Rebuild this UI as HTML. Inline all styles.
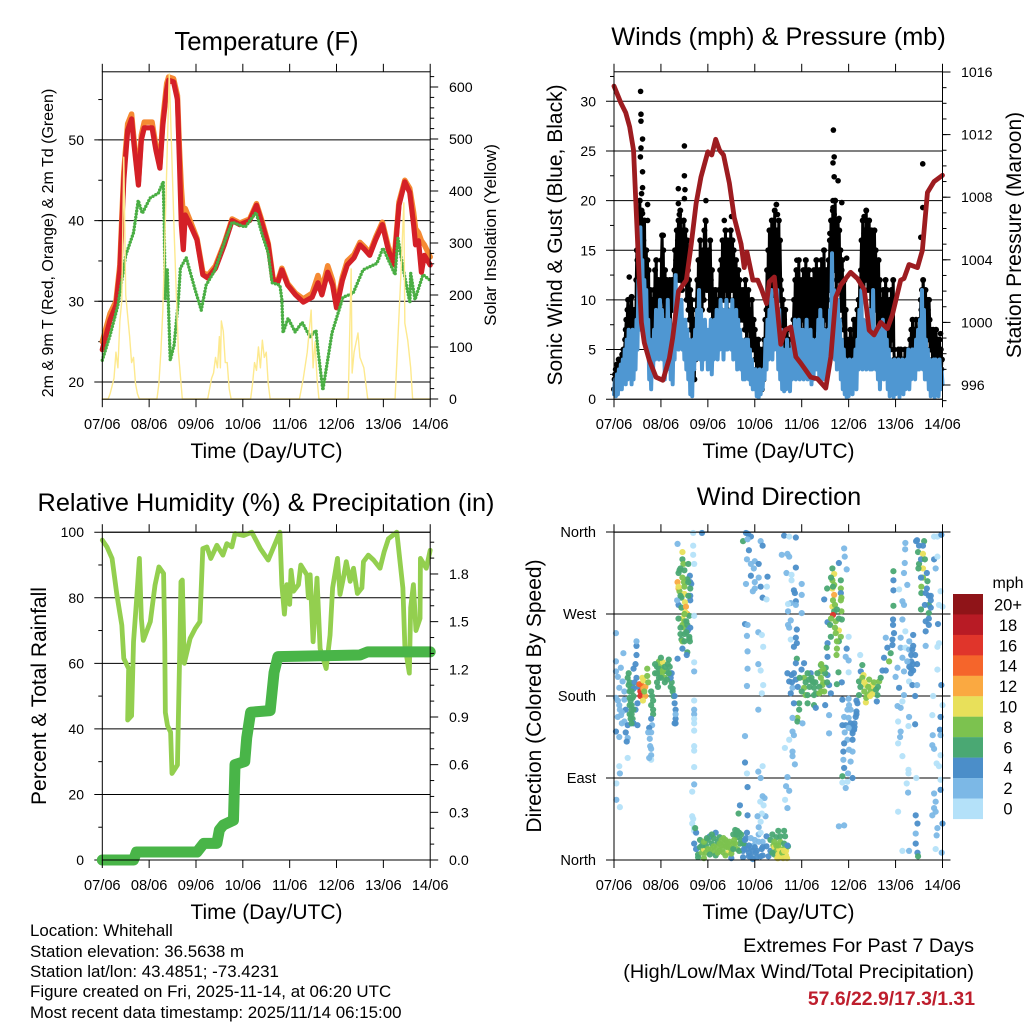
<!DOCTYPE html>
<html lang="en">
<head>
<meta charset="utf-8">
<title>Whitehall Station Meteogram</title>
<style>
html,body{margin:0;padding:0;background:#fff;}
svg{display:block;font-family:"Liberation Sans",Arial,sans-serif;}
</style>
</head>
<body>
<svg id="chart" xmlns="http://www.w3.org/2000/svg" width="1024" height="1024" viewBox="0 0 1024 1024">
<rect x="0" y="0" width="1024" height="1024" fill="#fff"/>
<g id="p1"></g>
<g id="p2"></g>
<g id="p3"></g>
<g id="p4"></g>
<g id="legend"></g>

<text x="266.5" y="50" font-size="25.7" text-anchor="middle">Temperature (F)</text>
<text x="778.5" y="45" font-size="25.3" text-anchor="middle">Winds (mph) &amp; Pressure (mb)</text>
<text x="266" y="511" font-size="25.3" text-anchor="middle">Relative Humidity (%) &amp; Precipitation (in)</text>
<text x="779" y="505" font-size="25.3" text-anchor="middle">Wind Direction</text>

<text x="266.5" y="458" font-size="21" text-anchor="middle">Time (Day/UTC)</text>
<text x="778.5" y="458" font-size="21" text-anchor="middle">Time (Day/UTC)</text>
<text x="266.5" y="919" font-size="21" text-anchor="middle">Time (Day/UTC)</text>
<text x="778.5" y="919" font-size="21" text-anchor="middle">Time (Day/UTC)</text>

<text transform="translate(53,243) rotate(-90)" font-size="16" text-anchor="middle">2m &amp; 9m T (Red, Orange) &amp; 2m Td (Green)</text>
<text transform="translate(496,235) rotate(-90)" font-size="17" text-anchor="middle">Solar Insolation (Yellow)</text>
<text transform="translate(562,235) rotate(-90)" font-size="21" text-anchor="middle">Sonic Wind &amp; Gust (Blue, Black)</text>
<text transform="translate(1021,235) rotate(-90)" font-size="21" text-anchor="middle">Station Pressure (Maroon)</text>
<text transform="translate(46,696) rotate(-90)" font-size="21" text-anchor="middle">Percent &amp; Total Rainfall</text>
<text transform="translate(541,696) rotate(-90)" font-size="21" text-anchor="middle">Direction (Colored By Speed)</text>

<g font-size="16.9">
<text x="30" y="936">Location: Whitehall</text>
<text x="30" y="957">Station elevation: 36.5638 m</text>
<text x="30" y="977">Station lat/lon: 43.4851; -73.4231</text>
<text x="30" y="997">Figure created on Fri, 2025-11-14, at 06:20 UTC</text>
<text x="30" y="1018">Most recent data timestamp: 2025/11/14 06:15:00</text>
</g>
<g text-anchor="end">
<text x="974" y="952" font-size="19.8">Extremes For Past 7 Days</text>
<text x="974" y="978" font-size="19.8">(High/Low/Max Wind/Total Precipitation)</text>
<text x="975" y="1005" font-size="19.4" font-weight="bold" fill="#be1e2d">57.6/22.9/17.3/1.31</text>
</g>
</svg>

<script>
/* ---------- shared axis data ---------- */
const timeTickHours = [0,24,48,72,96,120,144,168];
const timeTickLabels = ['07/06','08/06','09/06','10/06','11/06','12/06','13/06','14/06'];

/* ---------- temperature panel ---------- */
const tempHours = [0,4,7,9,11,13,15,16,18.5,20,21.5,25.5,27.5,29.5,31,33,34,36.5,38.5,39.5,40.5,41.5,42.5,45,48.5,51.5,54,58,62.5,66.5,70.5,75.5,79,82,85,87.5,90,92,95,99,103,107.5,110.5,112.5,115.5,118,120,123,125.5,129,132,134.5,137,140,143.5,146.5,149.5,152,155,157.5,159.5,160.5,162,163.5,165,168];
const temp2m = [24,27.7,29.5,33.9,45,51.2,52.6,50,44.4,50,51.5,51.5,48.7,46.5,51.8,56.2,57.4,57.2,55,47.5,39.5,36.4,40.7,39.5,37.6,33.3,32.9,34.1,37,40,39.5,40,41.9,39.5,37,32.6,32.4,33.9,32,30.8,29.9,30.5,32.3,30.8,33.6,32,29.2,32.6,34.5,35.4,37,36.4,35.7,37.6,39.5,36.4,34.5,41.9,44.8,43.5,39.5,37,37.5,33.6,35.7,34.5];
const temp9m = [25,28.5,30,34.5,46,52,53.2,50.6,44.8,50.6,52.2,52.2,49.2,47,52.5,57,57.8,57.6,55.5,49,44,40.5,41.5,40,37.8,33.6,33.2,34.4,37.2,40.2,39.7,40.2,42.1,39.8,37.2,32.8,32.6,34.1,32.2,31,30.3,31,33.2,31.5,34.4,32.6,29.6,33,35,35.8,37.3,36.7,36,37.9,39.8,36.8,35,42.3,45,44,41,39,38.5,37.5,37,35.5];
const dewHours = [0,4,8,12,16,18.4,20.5,24.5,28.7,31.2,31.7,32.2,33.3,34.8,36.8,39,40,43,47.6,50.7,53.2,57.8,63,66.5,73.2,78.8,82,85,87,91,92,92.6,95.2,98.8,102.4,106.4,109.5,110.5,113,117.7,123.3,128.5,133.6,140.7,143.8,150,151.5,154,156,157.6,158,160.2,164.3,168];
const dewPoint = [22.7,25.8,29.5,35.7,38.5,42.5,40.9,42.8,43.4,44.8,40,30.2,33.9,22.7,24.6,30.2,34.1,35.4,31.4,28.9,32,33.9,37.6,39.8,39.2,41,38.2,36,32.3,32,30.2,26.1,27.9,26.2,27.4,25.6,26.4,24,19,26.1,30.5,31,33.9,34.7,36.6,33.3,37.8,34.2,31.8,29.8,33.5,30.2,33.3,32.6];
const solarHours = [0,3,4,6,7,8,9,10,11,12,13,14,15,16,17,18,19,28,29,30,31,32,34.3,37,39,41,54,55,56,57,58,59,60,60.5,61,62,63,64,65,66,76,77,78,79,80,81,82,83,84,85,86,101,103,105,107,108,109,110,111,126,127.5,128,129,131,132,134,136,150,151.5,153,154.5,155,156.5,158,159,168];
const solarWatts = [0,0,10,40,90,60,150,190,465,200,160,120,70,80,30,10,0,0,30,90,170,300,625,300,90,0,0,20,40,50,80,60,120,60,150,130,70,70,20,0,0,30,70,55,100,60,113,80,90,30,0,0,40,90,171,60,110,40,0,0,250,50,90,127,80,60,0,0,120,240,377,146,113,60,0,0];
const tempTicks = [20,30,40,50];
const tempMinorTicks = [20,25,30,35,40,45,50,55];
const solarTicks = [0,100,200,300,400,500,600];
const solarMinorTicks = [0,20,40,60,80,100,120,140,160,180,200,220,240,260,280,300,320,340,360,380,400,420,440,460,480,500,520,540,560,580,600,620];

/* ---------- wind and pressure panel ---------- */
const windStepHours = 0.5;
const windSpeed = [
0.5,2,0.3,2.5,0.5,3,1,3.5,1,4,2,5,1.5,6,2,7,3,6,1.5,7,2,6,3,8,
5,12,7,17.3,9,14,7,12,8,11,5,8,2,6,1,5,3,7,4,9,5,8,4,10,
5,9,4,8,2,7,3,10,4,8,2,6,1.5,7,4,12.5,6,11,5,10,7,10,5,8,
4,8,3,7,2,6,0.5,5,0.3,6,3,7,4,9,5,11,4,9,3,7,4,8,5,7,
3,7,4,8,2.5,6,4,8,5,9,4,7,5,10,6,9,4,9,5,10,5,8,6,9,
5,10,4,8,5,9,3,8,4,7,3,6,2,5,2,6,3,6,2,5,1.5,4,1,3,
1,3,0.3,2.5,0.2,3,0.5,2,1,3,2,6,3,8,4,9,5,11,4,10,5,10,6,11,
3,9,2,7,1,5,0.8,4,1,6,3,4,0.8,5,2,7,3,8,2,6,3,8,2,7,
3,7,2,6,3,8,2,6,3,7,1.5,6,2,5,3,6,3,8,2,9,4,8,2,7,
2,5,3,7,4,9,6,14.7,5,11,4,9,3,10,4,8,2,6,1,5,0.5,4,0.2,3,
0.3,4,1,3,0.5,4,2,5,1,6,3,9,4,11,3,8,4,7,3,8,4,9,3,7,
3,11,4,7,3,6,2,7,1,6,3,8,2,7,3,6,1,5,0.3,4,0.5,3,0.2,4,
0.5,3,1,4,0.2,3,1,4,0.5,3,1,4,2,5,1,4,2,5,3,5,2,6,3,7,
3,8,4,11,3,9,2,6,2,5,1,4,0.3,3,0.5,4,0.2,4,0.5,3,0.3,4,1,3,1.5];
const gustStepHours = 0.3;
const gustSpeed = [
1,2,2.5,3,3,3.5,3,3.5,4,3.5,4,4,3.5,4,4.5,4,5,4.5,5,6,
7,8,6,9,10,7,8,5,6,9,10.3,8,6,5,7,9,8,6,12,15,
14,18,12,17,20,16,13,19,15,12,16,14,18,11,13,15,12,14,10,13,
5,8,11,7,9,6,10,8,11,7,13,9,14,6,10,8,12,7,11,9,
10,14,16.5,12,15,9,11,13,8,10,12,9,11,8,10,12,7,11,9,12,
9,12,10,13,15,11,14,17,13,16,18,12,15,19,14,17,11,16,13,18,
15,12,17,14,10,16,13,9,12,8,11,7,10,5,9,3,6,2,8,4,
8,10,12,9,14,11,8,16,10,13,9,12,15,10,17,12,18,14,11,13,
14,11,15,9,16,12,10,13,8,11,7,10,8,11,6,9,7,10,8,11,
10,13,9,14,11,16,12,10,15,13,17,11,14,9,16,12,15,10,13,17,
14,11,16,12,15,10,13,9,14,11,12,8,13,10,12,8,11,9,10,8,
11,8,10,7,12,9,6,10,8,11,7,9,5,8,6,10,7,5,8,6,
7,4,6,3,5,2,6,4,3,5,2,4,1,3,5,2,6,4,8,5,
9,13,7,15,10,17,12,8,14,18,11,16,9,13,19,12,15,10,17,14,
13,18,10,16,12,11,9,7,10,5,8,4,9,6,3,7,5,3,6,4,
3,4,5,3,5,4,8,10,7,12,9,13,8,11,6,14,9,12,7,10,
8,12,10,13,7,11,9,14,8,12,6,10,13,9,11,7,12,5,10,8,
9,13,6,11,8,14,10,7,12,9,13,6,11,8,14,10,12,7,15,9,
11,8,13,7,10,12,14,11,16,13,18,15,12,19,14,17,13,20,15,11,
16,12,18,14,17,11,15,9,13,14,10,8,7,12,5,9,4,6,3,5,
3,6,4,7,3,5,4,6,5,8,4,7,5,8,6,9,7,10,8,12,
9,13,16,11,18,14,10,17,12,15,19,13,16,11,14,18,12,15,9,17,
13,16,10,14,17,12,15,9,13,7,11,14,8,12,5,10,4,8,6,11,
7,10,5,12,8,11,6,9,4,7,10,5,8,11,6,9,12,5,4,3,
2,3,4,1,3,5,2,3,4,5,2,4,1,3,4,2,5,3,2,4,
2,4,3,5,4,6,3,7,5,8,4,6,7,3,5,8,6,4,7,5,
6,8,7,10,9,11,8,12,10,7,9,11,8,10,6,9,7,10,8,5,
7,5,6,4,7,3,6,5,4,7,2,5,6,4,3,6,2,5,3,4];
const gustPeakHours = [13.6,13.8,13.8,14.6,13.8,13.5,14.6,14.6,14.1,17.2,14.6,17.2,7.8,36,36,32.9,36.3,36,32.9,33.4,34.2,47,47,56.4,60.1,25.2,83.1,83.6,83,112.2,112.6,112,112.6,114.6,112,112,116.5,112.6,115.1,110.4,127.9,127.9,133,157.9,157.9,156.9,93.5,119,167];
const gustPeakSpeed = [31,28.7,28,26.2,25.3,24.4,22.9,21.3,20.7,19.6,18.7,18,12.3,25.5,22.5,21.2,21.1,20.2,19.7,18.6,17.9,20,17.9,18,18.4,16.5,19.6,18.6,19.6,27.1,24.4,23.8,22.4,22,20,19.3,19.8,18.6,18.2,16.7,18.4,16.7,16.9,23.7,19.3,16.3,14,14.2,6.6];
const pressureHours = [0,3.6,6,8,10,11.2,13,14,15.5,18,21.5,25,28.3,30,33,37,39.5,42,44.5,48,50,52,54,56,59,61.5,65,66.6,68,71,73.5,75.5,78,79.4,82,85.3,87.4,90.4,93,95.5,100.6,104,108.3,110.9,113.4,116,121,124.5,128,130.5,133,136.4,139.8,142.4,146.6,148.3,150.9,155.2,157.7,160.3,163.7,168];
const pressureMb = [1015.1,1014,1013.4,1012.5,1011,1007.6,1002.5,1000,998.7,997.6,996.5,996.3,997.7,999,1002,1002.7,1005,1007.6,1009.3,1010.9,1010.7,1011.7,1011,1010.7,1008.9,1006.7,1005,1003.5,1004.5,1002.7,1002.7,1002.1,1001.2,1002.6,1002.9,998.6,999.5,999.7,997.8,997.4,996.5,996.4,995.8,997.8,1001.6,1002.4,1003.2,1002.8,1002.1,999.5,999.2,1000,999.6,1000.5,1002.7,1002.8,1003.7,1003.5,1004.6,1008.3,1009,1009.4];
const windTicks = [0,5,10,15,20,25,30];
const windMinorTicks = [2.5,7.5,12.5,17.5,22.5,27.5,32.5];
const pressureTicks = [996,1000,1004,1008,1012,1016];
const pressureMinorTicks = [995,996,997,998,999,1000,1001,1002,1003,1004,1005,1006,1007,1008,1009,1010,1011,1012,1013,1014,1015,1016];

/* ---------- humidity and rainfall panel ---------- */
const humidityHours = [0,2.4,5,7.5,10,11,13.5,13,15,16,17.5,19,20,21,24.6,27,29,31.4,32,32.3,33.4,35,35.7,38.5,39.6,40.3,41,42,45,47.6,50,51.5,53.6,55.6,58.7,61.8,63.8,66.4,68,72.4,76.6,81,85,91,92,93.3,94.5,96,96.7,98,100.5,101.7,104.8,105.6,106.5,108,110,111.6,114.7,116.7,118,120.5,121.8,123.5,125,127,128.7,130.7,133,133.8,136.3,139,142.3,144.4,146.6,150.9,154,155,157.3,158,159.4,160.7,162.8,163,166,168];
const humidity = [97.6,95.5,92,80.8,71.6,61.5,58.4,42.7,44,66.6,78.8,92,73.7,67,72.7,83.8,89.4,87.4,66.6,45,41,39,26.4,29,61.5,84.9,85.4,60,67.6,70.6,72.7,95,95.5,92,96,93,96.5,95.5,99.6,99,100,95,91.5,100,84,75,84,78,88.4,82,84,90,87,80,87,66.6,86,64.5,58.4,68.6,83,92,81,86,91,85,89,81.3,83,91,93,91.5,89,94,98,100,83,65.5,57,77,84,70,73.7,92,89,94.5];
const rainHours = [0,16,17.5,48.5,52,58.7,60,62,67.2,68,73,74,76,86,88,90,132,136,168];
const rainInches = [0,0,0.05,0.05,0.105,0.105,0.19,0.22,0.25,0.6,0.62,0.77,0.93,0.94,1.18,1.28,1.29,1.31,1.31];
const humidityTicks = [0,20,40,60,80,100];
const humidityMinorTicks = [10,30,50,70,90];
const rainTicks = [0,0.3,0.6,0.9,1.2,1.5,1.8];
const rainTickLabels = ['0.0','0.3','0.6','0.9','1.2','1.5','1.8'];
const rainMinorTicks = [0.1,0.2,0.4,0.5,0.7,0.8,1.0,1.1,1.3,1.4,1.6,1.7,1.9,2.0];

/* ---------- wind direction panel ---------- */
const directionHours = [
1,1,4.8,1,3.5,2,4.4,2.7,5.3,1,
2.7,5.3,6,3.6,1.9,5.3,7,1,2.7,7,
7,2.7,3,1.2,1.2,3,2,3,4,4,
6,6.5,8,8,8.5,9,9,9,9.5,10,
8,8.5,9.5,7.5,10,11,11.5,11.5,11.5,11.5,
12,10.5,12,10,11,12.5,13,14,13.5,13.5,
15,16,15,16,14.5,14.8,15.5,17,17,17.5,
19,19.5,20,20,20,19,21,22,23,24,
25,24.5,23,26,27,27.5,28,28.5,23,22,
26,22.5,28.7,29.5,30,30.5,30,29.5,31,29,
31,31.5,31.5,31.5,31.5,31,19,19.5,18,19,
18.3,18.5,19,19,19,18,17.5,32.5,35,35,
35.5,38,34,33.5,36,33,38.8,37.5,39,39.5,
40.5,40.5,41,32.5,33,35.8,36,38,39,33.5,
36,39,39,34.5,33,36.3,32.3,34.5,36.8,37.5,
36.5,38.5,35,36,35,36,37.5,36,34.5,34,
38.5,38.5,38.8,35,37.8,39,35,37.5,37.2,32.5,
41,41,41,41,41,41,41,41,41,41,
41,41,41,40,40.5,45,40,40.5,40,41,
41,42,41.5,41,42,43,43,44,45,46,
46,47,48,49,49.5,50,51,51,52,52.5,
53,54,54,55,56,56.5,57,58,58.5,59,
60,60,61,61,62,63,63,64,64.5,65,
66,66,67,67.5,68,69,70,70,71,71.5,
72,72.5,73,74,74,75,75,75.5,76,76,
77.5,76.5,77,78,78,79,80,80,81,81.5,
82,82,83,83,83.5,84,84.5,85,85,86,
86.5,87,87.5,88,88,88.5,89,87,84,88.7,
67.5,68.5,66,70,75,76,69,68,70,72,
74,71.5,70,72,74,75,72,71,76,78.5,
78.2,78,67.5,68.3,67,68.3,68,68.3,68.3,68,
73.8,75.6,76.3,73.8,75,76.3,75.6,73.8,67,67,
68,73.8,76,75,68.3,76,74.8,75.6,73.4,64.4,
63.7,68.3,87,89.6,93,85.8,88.7,89.6,93,88.2,
90.8,90.8,96,92,92.5,96,93,90.4,89,93,
96,89,90.4,89,89.6,93.5,90.4,93,93.5,92,
93.5,93,97.2,95.9,88.7,90.8,93,89.6,91.3,90.4,
97.2,97.2,100.6,99.8,101.5,102.3,103.2,105.8,105.8,105.8,
106.6,107.5,108.3,109.2,110,110.9,98,94.7,92,94.7,
93.8,93.8,91.3,99,99,102.3,102.3,103.2,108,96.4,
91.3,92,89.6,87.4,91.3,91.3,92.5,88.7,88,89.6,
87.5,88.7,111.7,112.6,111.7,112.6,111.7,109,115,117.7,
118,119,116,116,116,112.6,116.3,107.5,111.7,112.6,
112,116.3,116.5,113.4,109.2,110.5,115,113.4,116,110.9,
115,109.2,108.8,114,113.8,119,109.2,120,118.5,120,
120,114.8,116.5,114,116.8,120,124.5,120.2,119.4,124,
123.6,117.7,120,116.8,118.5,122,122.8,122,119.4,117.7,
120.2,117.3,122,117.3,121,117.7,116.8,119.7,122,116.8,
119.4,118.5,115,117.7,110,110,125.3,126.2,127,127.6,
128.8,130.5,128,132,133,131.3,128.8,129.6,125.3,134.7,
134.4,135.6,136.4,137.3,139,140.7,141.5,138.1,139.8,142.4,
143.2,142.4,142.7,142.7,139,125.9,142.9,142.9,142.9,142.9,
145,144,145.8,146.6,147.5,148.3,147.5,150,148.3,149,
148.9,148.7,145.8,149,146.6,149,147.5,150.9,148.3,150.9,
148.3,147.5,145,146.6,145.3,150.9,150.6,154,146.6,146.3,
145.3,147.5,150.6,150.6,149.7,150.4,145.3,147.5,150.9,152,
152.6,153,151.8,152.6,154,155,154.5,155,158.6,155.5,
156,158,158,158,155.7,157.2,157.2,160.3,160,159.4,
162,161,157,161,162,159.4,161,159.4,159.4,163.7,
165.4,167.4,163.7,165.4,164.5,167,168,166.2,165.7,166.2,
165.4,165.4,167.4,163.2,168,162.8,167,166.7,167,163,
162.8,163.7,167,165,166.2,167,154.6,167,163.7,164.5,
163.7,164.5,162.8,154.3,155.2,154.3,154.3,155.2,155.5,168,
165.4,165,164.5,167.6,
44,45,46,47,47.5,48,49,50,51,52,
53,54,55,55.5,56,57,57.5,58,59,60,
61,61.5,62,62.5,63,64,65,66,66.5,67,
68,69,69,70,71,72,73,74,75,76,
81,82,83,84,84,85,85.5,86,86.5,87,
7,7.5,8,8.5,9,9.5,10,10,8,9,
21,22,23,24,25,26,27,28,29,24,
91,92,94,95,96,98,99,100,101,102,
103,104,105,106,107,108,109,106,107,105,
33,34,35,36,37,38,33,34,36,37,
111,112,113,114,115,116,113,111,114,112,
126,127,128,129,130,131,132,133,134,135,
156,157,158,159,160,161,162,157,159,161,
121,122,123,124,122,123,121,120,124,118,
152,153,153,154,151,152,150,155,153,151];
const directionDegrees = [
249,218,227,207,211,201,196,189,185,178,
170,176,165,159,157,152,148,141,135,134,
112,103,95,84,66,58,175,165,150,162,
140,130,195,185,175,170,165,160,190,180,
178,188,155,205,210,215,225,235,240,200,
172,195,148,150,165,190,193,192,185,180,
188,190,197,180,200,175,185,210,202,195,
170,180,165,160,175,185,205,212,218,212,
217,205,205,200,207,215,220,212,200,195,
195,190,205,195,188,180,185,205,180,200,
172,165,155,160,150,150,155,148,145,140,
133,125,122,115,110,112,140,347,338,330,
325,325,320,318,318,315,312,308,305,303,
345,335,325,305,298,305,300,305,298,295,
292,290,285,288,280,283,285,277,278,270,
272,268,265,262,258,255,258,248,242,248,
245,243,240,240,252,255,232,228,225,221,
268,217,207,175,165,160,155,150,142,125,
120,102,83,75,359,359,48,45,40,35,
32,30,35,18,12,6,3,14,8,2,
12,16,22,26,12,18,24,9,30,14,
20,25,10,16,8,18,22,14,8,20,
12,2,28,18,33,25,12,30,18,22,
10,3,16,24,30,8,14,4,1,16,
22,8,3,28,36,30,42,12,5,20,
48,60,68,26,15,4,22,10,28,16,
6,14,25,10,2,6,12,20,26,3,
12,18,26,5,10,2,15,32,32,16,
359,358,350,355,350,345,340,330,325,328,
325,320,312,305,310,300,298,295,288,311,
300,286,303,352,259,258,246,229,210,191,
250,247,234,215,208,192,183,165,136,107,
95,97,103,90,80,70,64,51,48,60,
51,49,356,355,354,335,336,333,321,315,
313,307,303,296,293,291,284,282,281,280,
271,273,263,258,255,253,242,244,238,234,
221,216,216,209,205,203,198,196,189,183,
200,189,205,198,196,189,183,214,207,200,
192,185,211,203,192,183,181,172,172,165,
156,152,156,172,181,170,181,167,170,150,
141,137,132,123,119,114,105,91,81,76,
66,57,320,314,307,302,298,298,326,342,
333,319,307,298,293,291,288,286,278,273,
269,273,264,262,261,258,252,249,245,245,
240,238,233,232,225,232,223,245,223,219,
206,206,195,193,176,177,172,170,165,163,
157,157,156,148,148,148,143,139,132,128,
121,119,119,110,108,101,92,95,90,85,
86,79,37,38,159,139,196,207,214,203,
192,198,185,192,187,185,173,181,181,181,
174,196,200,208,208,218,227,222,233,236,
249,242,258,264,244,225,279,296,307,317,
211,201,189,244,264,280,284,302,315,348,
341,326,297,251,233,233,222,231,207,196,
181,174,169,167,152,157,147,149,141,135,
128,114,99,95,84,74,53,10,10,218,
231,247,205,192,180,192,350,351,350,338,
325,336,320,310,320,300,293,306,298,293,
290,280,275,271,277,262,258,251,235,355,
355,357,330,333,320,295,278,280,259,238,
234,209,192,180,170,159,157,143,137,137,
126,122,115,106,103,88,90,77,73,64,
57,53,49,49,40,29,18,8,4,40,
35,27,12,8,
22,16,20,8,24,12,6,28,15,5,
8,18,22,12,24,5,15,19,14,7,
12,22,18,28,32,10,28,18,12,22,
12,4,16,24,10,14,10,20,4,14,
8,20,16,2,16,6,10,8,2,10,
200,192,170,155,150,178,188,165,160,185,
215,205,210,222,208,212,198,205,190,200,
195,205,190,200,185,195,205,190,200,195,
195,205,190,185,195,205,195,215,210,183,
300,290,310,270,262,290,265,255,240,250,
310,285,280,275,265,285,255,265,240,300,
190,200,195,178,190,180,182,195,187,190,
345,330,345,330,315,290,285,310,280,265,
150,142,150,160,132,146,165,145,175,140,
225,215,208,225,240,210,218,215,235,212];
const directionSpeeds = [
2,2,2,2,2,2,2,2,2,2,
2,2,4,2,2,2,4,4,2,2,
0,0,2,0,2,0,2,2,2,2,
4,4,6,6,6,6,6,6,6,6,
6,6,6,6,4,4,4,4,2,4,
4,4,4,4,4,4,14,14,16,16,
12,12,10,12,10,10,8,8,8,8,
6,6,6,6,6,6,6,6,8,8,
10,8,8,8,6,6,6,6,6,6,
6,6,6,6,6,6,6,4,4,4,
4,4,4,2,4,4,4,2,4,2,
2,2,2,2,0,2,2,2,10,6,
8,6,6,6,6,6,4,6,4,4,
0,0,0,12,12,8,8,6,6,8,
10,4,4,6,4,10,2,6,12,12,
10,6,10,8,8,8,6,6,6,6,
6,6,6,8,4,4,4,6,4,4,
0,0,2,0,2,2,0,0,0,0,
0,0,2,0,0,4,0,0,0,0,
0,4,6,4,4,6,6,6,8,8,
10,6,6,4,8,6,6,8,4,8,
6,6,8,8,8,8,8,8,10,8,
8,4,6,8,6,6,8,6,6,6,
4,4,6,4,4,4,4,4,4,2,
2,4,4,2,2,0,0,4,4,2,
2,0,2,4,4,4,6,4,6,8,
6,10,6,8,10,10,10,8,6,8,
8,6,6,10,10,10,6,6,6,4,
4,4,6,4,2,4,4,2,2,2,
4,2,4,2,2,4,2,2,4,4,
0,0,2,2,4,2,2,2,2,2,
2,0,0,2,0,0,0,2,2,4,
0,2,0,2,4,2,0,0,2,4,
6,4,4,0,4,2,2,2,4,2,
0,0,2,4,4,2,4,2,0,2,
2,2,2,2,2,4,0,4,4,4,
6,4,4,4,4,4,4,4,2,4,
8,8,4,6,6,6,6,6,8,8,
8,8,6,4,4,4,8,6,4,6,
8,6,2,6,6,6,6,4,4,2,
2,2,0,0,2,2,2,2,2,2,
0,2,6,10,8,8,10,6,4,2,
2,2,6,8,4,12,8,4,10,6,
16,8,6,8,4,6,10,8,8,6,
6,4,6,8,8,4,4,0,2,2,
0,6,4,6,4,2,4,2,2,4,
4,2,2,4,4,4,4,4,2,4,
2,4,2,2,2,4,6,2,4,0,
0,2,2,2,2,2,6,4,6,10,
10,8,8,10,10,8,10,8,6,6,
4,8,6,4,4,8,6,4,4,4,
4,4,4,4,2,0,6,4,4,6,
2,2,4,2,2,2,2,2,2,2,
2,2,0,0,2,0,2,2,2,0,
2,0,2,2,0,2,0,4,2,2,
0,0,0,0,0,2,0,0,2,4,
4,4,4,4,4,2,4,4,6,6,
6,10,10,8,6,8,6,6,4,4,
4,6,6,6,4,4,4,4,2,0,
0,4,4,0,2,0,0,0,4,0,
0,0,4,0,0,0,4,4,2,2,
2,2,0,0,0,0,0,4,2,2,
2,2,2,4,4,2,4,4,6,4,
2,2,0,2,
6,6,8,8,6,8,6,6,8,6,
8,8,8,8,8,8,8,8,8,8,
6,8,8,6,6,6,6,6,4,4,
4,4,4,2,4,4,4,2,4,4,
6,8,8,10,8,10,10,8,10,10,
6,6,6,6,6,6,4,6,6,6,
6,6,6,6,8,6,6,6,6,6,
4,4,4,6,6,6,6,6,6,6,
6,6,6,8,8,6,6,8,8,8,
10,6,8,8,6,6,6,6,6,6,
6,8,8,6,6,8,8,8,8,6,
6,8,10,8,8,10,10,8,6,6,
4,4,4,6,4,4,4,4,4,4,
4,4,4,4,4,4,2,2,4,2,
4,4,4,4,2,4,2,4,4,4];
const directionTicks = [0,90,180,270,360];
const directionTickLabels = ['North','East','South','West','North'];

/* ---------- wind speed legend ---------- */
const legendSpeeds = [20,18,16,14,12,10,8,6,4,2,0];
const legendLabels = ['20+','18','16','14','12','10','8','6','4','2','0'];
const legendColors = ['#8f1418','#b81b25','#e0352b','#f5652b','#faa941','#e8e05a','#7cc24f','#4aa873','#4b8ec9','#7cb8e6','#b4e1f9'];

/* ---------- scales ---------- */
const NS = 'http://www.w3.org/2000/svg';
const plot = {left:102.3,right:430.2,left2:614,right2:942.5,top1:71.8,bottom1:399.2,top2:532.2,bottom2:860};
const xLeft = h => plot.left + h * (plot.right - plot.left) / 168;
const xRight = h => plot.left2 + h * (plot.right2 - plot.left2) / 168;
const yTemp = v => 382 - (v - 20) * 8.07;
const ySolar = v => 399 - v * 0.52;
const yWind = v => 399.2 - v * 9.93;
const yPressure = v => 385 - (v - 996) * 15.65;
const yHumidity = v => 860 - v * 3.278;
const yRain = v => 860 - v * 158.9;
const yDirection = v => 860 - v * 0.911;

function node(tag, parent, attrs){
  const el = document.createElementNS(NS, tag);
  for (const k in attrs) el.setAttribute(k, attrs[k]);
  parent.appendChild(el);
  return el;
}
function hline(parent, x1, y1, x2, y2, name, color){
  const el = node('line', parent, {x1:x1, y1:y1, x2:x2, y2:y2, stroke:color || '#000', 'stroke-width':1});
  
  
  return el;
}
function label(parent, x, y, str, anchor, size, name){
  const el = node('text', parent, {x:x, y:y, 'font-size':size, 'text-anchor':anchor});
  el.textContent = str;
  
  
  return el;
}
function series(parent, xs, ys, xf, yf, stroke, width, name, extra){
  let d = '';
  const n = Math.min(xs.length, ys.length);
  for (let i = 0; i < n; i++) d += (i ? 'L' : 'M') + xf(xs[i]).toFixed(2) + ' ' + yf(ys[i]).toFixed(2);
  const el = node('path', parent, {d:d, fill:'none', stroke:stroke, 'stroke-width':width, 'stroke-linejoin':'round', 'stroke-linecap':'round'});
  if (extra) for (const k in extra) el.setAttribute(k, extra[k]);
  
  
  return el;
}
function frame(parent, x0, x1, y0, y1){
  const el = node('rect', parent, {x:x0, y:y0, width:x1 - x0, height:y1 - y0, fill:'none', stroke:'#000', 'stroke-width':1});
  
  
}
function timeAxis(parent, xf, y0, y1){
  timeTickHours.forEach((h, i) => {
    hline(parent, xf(h), y1, xf(h), y1 + 8, 'x-axis-tick');
    hline(parent, xf(h), y0, xf(h), y0 - 8, 'x-axis-top-tick');
    label(parent, xf(h), y1 + 30, timeTickLabels[i], 'middle', 14.6, 'x-axis-tick-label');
  });
}
function leftAxis(parent, x0, x1, yf, ticks, minors, labels, tx){
  ticks.forEach((t, i) => {
    hline(parent, x0 - 8, yf(t), x1, yf(t), 'y-gridline');
    label(parent, tx, yf(t) + 5, labels ? labels[i] : String(t), 'end', 14, 'y-axis-tick-label');
  });
  minors.forEach(t => {
    hline(parent, x0 - 4, yf(t), x0, yf(t), 'y-axis-minor-tick');
  });
}
function rightAxis(parent, x1, yf, ticks, minors, labels, tx){
  ticks.forEach((t, i) => {
    hline(parent, x1, yf(t), x1 + 8, yf(t), 'right-axis-tick');
    label(parent, tx, yf(t) + 5, labels ? labels[i] : String(t), 'start', 14.2, 'right-axis-tick-label');
  });
  minors.forEach(t => {
    hline(parent, x1, yf(t), x1 + 4, yf(t), 'right-axis-minor-tick');
  });
}

/* ---------- panel 1: temperature ---------- */
(function(){
  const g = document.getElementById('p1');
  leftAxis(g, plot.left, plot.right, yTemp, tempTicks, tempMinorTicks, null, 84);
  series(g, tempHours, temp9m, xLeft, yTemp, '#f58a33', 5.5, 'temperature-9m-line');
  series(g, tempHours, temp2m, xLeft, yTemp, '#d42027', 5.2, 'temperature-2m-line');
  series(g, dewHours, dewPoint, xLeft, yTemp, '#4aae44', 3.4, 'dew-point-dots', {'stroke-dasharray':'0 3.2'});
  series(g, solarHours, solarWatts, xLeft, ySolar, '#fde98e', 1.4, 'solar-insolation-line');
  frame(g, plot.left, plot.right, plot.top1, plot.bottom1);
  timeAxis(g, xLeft, plot.top1, plot.bottom1);
  rightAxis(g, plot.right, ySolar, solarTicks, solarMinorTicks, null, 449);
})();

/* ---------- panel 2: winds and pressure ---------- */
(function(){
  const g = document.getElementById('p2');
  leftAxis(g, plot.left2, plot.right2, yWind, windTicks, windMinorTicks, null, 596);
  const gustHours = gustSpeed.map((v, i) => i * gustStepHours);
  const windHours = windSpeed.map((v, i) => i * windStepHours);
  series(g, gustHours, gustSpeed, xRight, yWind, '#000', 3, 'gust-envelope');
  gustSpeed.forEach((v, i) => {
    const c = node('circle', g, {cx:xRight(gustHours[i]).toFixed(2), cy:yWind(v).toFixed(2), r:3, fill:'#000'});
    
    
  });
  gustPeakSpeed.forEach((v, i) => {
    const c = node('circle', g, {cx:xRight(gustPeakHours[i]).toFixed(2), cy:yWind(v).toFixed(2), r:2.8, fill:'#000'});
    
    
  });
  series(g, windHours, windSpeed, xRight, yWind, '#4f97d2', 4, 'sonic-wind-line');
  series(g, pressureHours, pressureMb, xRight, yPressure, '#9d1c20', 4.8, 'pressure-line');
  frame(g, plot.left2, plot.right2, plot.top1, plot.bottom1);
  timeAxis(g, xRight, plot.top1, plot.bottom1);
  rightAxis(g, plot.right2, yPressure, pressureTicks, pressureMinorTicks, null, 961);
})();

/* ---------- panel 3: humidity and rain ---------- */
(function(){
  const g = document.getElementById('p3');
  leftAxis(g, plot.left, plot.right, yHumidity, humidityTicks, humidityMinorTicks, null, 84);
  series(g, humidityHours, humidity, xLeft, yHumidity, '#93cf4f', 4.8, 'relative-humidity-line');
  series(g, rainHours, rainInches, xLeft, yRain, '#49b548', 11, 'total-rainfall-line');
  frame(g, plot.left, plot.right, plot.top2, plot.bottom2);
  timeAxis(g, xLeft, plot.top2, plot.bottom2);
  rightAxis(g, plot.right, yRain, rainTicks, rainMinorTicks, rainTickLabels, 449);
})();

/* ---------- panel 4: wind direction ---------- */
(function(){
  const g = document.getElementById('p4');
  directionTicks.forEach((t, i) => {
    hline(g, plot.left2 - 8, yDirection(t), plot.right2 + 8, yDirection(t), 'direction-gridline');
    label(g, 596, yDirection(t) + 5, directionTickLabels[i], 'end', 14.6, 'direction-tick-label');
  });
  directionDegrees.forEach((d, i) => {
    const s = directionSpeeds[i];
    const idx = legendSpeeds.indexOf(Math.min(20, Math.floor(s / 2) * 2));
    const c = node('circle', g, {cx:xRight(directionHours[i]).toFixed(2), cy:yDirection(d).toFixed(2), r:3.1, fill:legendColors[idx], 'fill-opacity':0.95});
    
    
  });
  frame(g, plot.left2, plot.right2, plot.top2, plot.bottom2);
  timeAxis(g, xRight, plot.top2, plot.bottom2);
})();

/* ---------- legend ---------- */
(function(){
  const g = document.getElementById('legend');
  label(g, 1008, 588, 'mph', 'middle', 16, 'legend-unit');
  legendColors.forEach((color, i) => {
    const r = node('rect', g, {x:953, y:594 + i * 20.45, width:30, height:20.6, fill:color});
    
    
    label(g, 1008, 610.5 + i * 20.4, legendLabels[i], 'middle', 16.5, 'legend-label');
  });
})();
</script>
</body>
</html>
